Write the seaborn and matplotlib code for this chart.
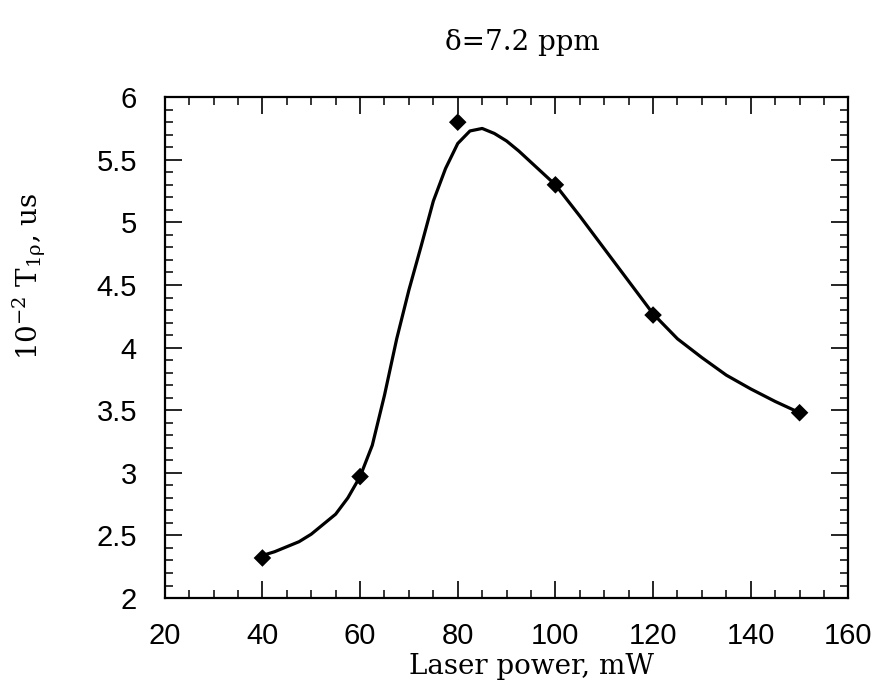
import numpy as np
import pandas as pd
import matplotlib
matplotlib.use('Agg')
import matplotlib.pyplot as plt
import seaborn as sns
from matplotlib.ticker import MultipleLocator

# Données mesurées (points en losange)
puissance = [40, 60, 80, 100, 120, 150]
t1rho = [2.32, 2.97, 5.80, 5.30, 4.26, 3.48]

# Courbe lissée
courbe_x = [40, 42.5, 45, 47.5, 50, 52.5, 55, 57.5, 60, 62.5, 65, 67.5, 70,
            72.5, 75, 77.5, 80, 82.5, 85, 87.5, 90, 92.5, 95, 97.5, 100,
            105, 110, 115, 120, 125, 130, 135, 140, 145, 150]
courbe_y = [2.34, 2.37, 2.41, 2.45, 2.51, 2.59, 2.67, 2.80, 2.97, 3.22, 3.62,
            4.07, 4.46, 4.81, 5.17, 5.43, 5.63, 5.73, 5.75, 5.71, 5.65, 5.57,
            5.48, 5.39, 5.30, 5.05, 4.79, 4.53, 4.27, 4.07, 3.92, 3.78, 3.67,
            3.57, 3.48]

x_ticks = [20, 40, 60, 80, 100, 120, 140, 160]
y_ticks = [2, 2.5, 3, 3.5, 4, 4.5, 5, 5.5, 6]
y_tick_labels = ['2', '2.5', '3', '3.5', '4', '4.5', '5', '5.5', '6']

sns.set_theme(style='ticks')
plt.rcParams['font.family'] = ['Liberation Sans', 'DejaVu Sans']
plt.rcParams['mathtext.fontset'] = 'dejavuserif'
plt.rcParams['text.color'] = 'black'
plt.rcParams['axes.labelcolor'] = 'black'
plt.rcParams['xtick.color'] = 'black'
plt.rcParams['ytick.color'] = 'black'

df_points = pd.DataFrame({'x': puissance, 'y': t1rho})
df_courbe = pd.DataFrame({'x': courbe_x, 'y': courbe_y})

fig = plt.figure(figsize=(8.81, 6.89), dpi=100)
ax = fig.add_axes([0.187, 0.132, 0.776, 0.727])

sns.lineplot(data=df_courbe, x='x', y='y', ax=ax, color='black', linewidth=2.3, sort=False)
sns.scatterplot(data=df_points, x='x', y='y', ax=ax, marker='D', s=80,
                color='black', edgecolor='none', zorder=5)

ax.set_xlim(20, 160)
ax.set_ylim(2, 6)
ax.set_xticks(x_ticks)
ax.set_xticklabels([str(v) for v in x_ticks])
ax.set_yticks(y_ticks)
ax.set_yticklabels(y_tick_labels)
ax.xaxis.set_minor_locator(MultipleLocator(5))
ax.yaxis.set_minor_locator(MultipleLocator(0.1))

ax.tick_params(which='both', direction='in', top=True, right=True, color='black')
ax.tick_params(which='major', length=12, width=1.2, labelsize=21)
ax.tick_params(axis='x', which='major', pad=17)
ax.tick_params(axis='y', which='major', pad=20)
ax.tick_params(which='minor', length=5.5, width=1.1)
for sp in ax.spines.values():
    sp.set_linewidth(1.6)
    sp.set_color('black')

ax.set_xlabel('Laser power, mW', fontsize=20, family='DejaVu Serif', color='black')
ax.xaxis.set_label_coords(0.537, -0.136)
ax.xaxis.label.set_va('center')
ax.set_ylabel(r'10$^{-2}$ T$_{\mathrm{1ρ}}$, us', fontsize=20, family='DejaVu Serif',
              color='black')
ax.yaxis.set_label_coords(-0.198, 0.642)
ax.yaxis.label.set_va('center')

fig.text(522 / 881, 1 - 42 / 689, 'δ=7.2 ppm', fontsize=20, family='DejaVu Serif',
         ha='center', va='center', color='black')

plt.savefig('out.png', dpi=100)
plt.close()
